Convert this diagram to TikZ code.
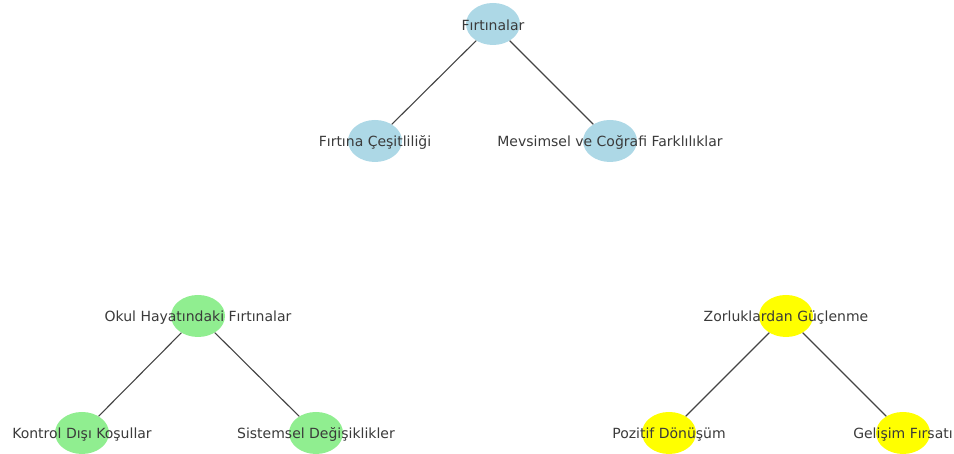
\documentclass[tikz,border=0pt]{standalone}
\usepackage{fontspec}
\setmainfont{DejaVu Sans}
\usetikzlibrary{shapes.geometric}
\definecolor{nblue}{HTML}{ADD8E6}
\definecolor{ngreen}{HTML}{90EE90}
\definecolor{nyellow}{HTML}{FFFF00}
\definecolor{txt}{HTML}{3A3A3A}
\definecolor{edg}{HTML}{444444}
\begin{document}
\begin{tikzpicture}[x=1pt,y=1pt,
  nd/.style={ellipse,draw=none,minimum width=54pt,minimum height=42pt,inner sep=0pt},
  lb/.style={text=txt,font=\fontsize{14}{15}\selectfont,inner sep=0pt,yshift=-1.5pt},
  edge/.style={draw=edg,line width=1.1pt}]
\useasboundingbox (0,0) rectangle (954,454);
\node[nd,fill=nblue,label={[lb]center:Fırtınalar}] (r) at (493,430) {};
\node[nd,fill=nblue,label={[lb]center:Fırtına Çeşitliliği}] (a) at (375,313) {};
\node[nd,fill=nblue,label={[lb]center:Mevsimsel ve Coğrafi Farklılıklar}] (b) at (610,313) {};
\node[nd,fill=ngreen,label={[lb]center:Okul Hayatındaki Fırtınalar}] (o) at (198,138) {};
\node[nd,fill=ngreen,label={[lb]center:Kontrol Dışı Koşullar}] (k) at (82,21) {};
\node[nd,fill=ngreen,label={[lb]center:Sistemsel Değişiklikler}] (s) at (316,21) {};
\node[nd,fill=nyellow,label={[lb]center:Zorluklardan Güçlenme}] (z) at (786,138) {};
\node[nd,fill=nyellow,label={[lb]center:Pozitif Dönüşüm}] (p) at (669,21) {};
\node[nd,fill=nyellow,label={[lb]center:Gelişim Fırsatı}] (g) at (903,21) {};
\draw[edge] (r) -- (a);
\draw[edge] (r) -- (b);
\draw[edge] (o) -- (k);
\draw[edge] (o) -- (s);
\draw[edge] (z) -- (p);
\draw[edge] (z) -- (g);
\end{tikzpicture}
\end{document}
